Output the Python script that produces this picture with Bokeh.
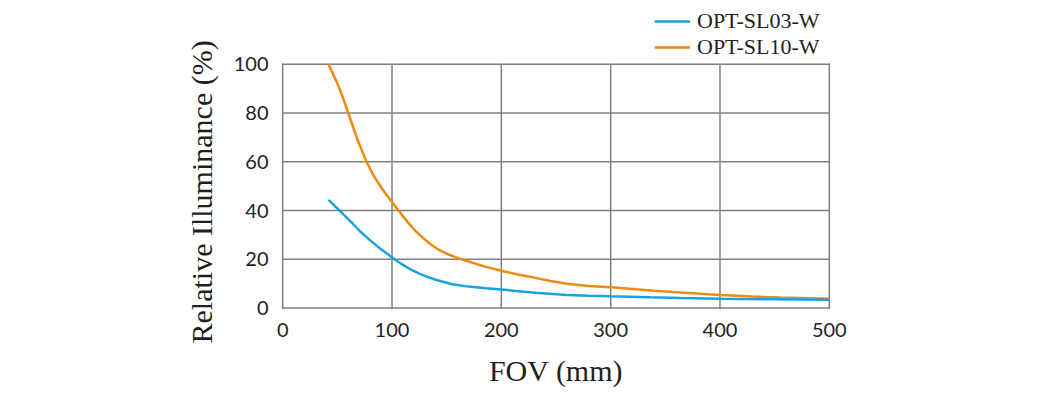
from bokeh.plotting import figure
from bokeh.models import Range1d, FixedTicker, Legend, LegendItem, Title
from bokeh.embed import file_html
from bokeh.resources import INLINE

# Data
blue_name = "OPT-SL03-W"
blue_x = [42, 49, 56, 64, 71, 79, 87, 94, 100, 105, 109, 117, 125, 133, 140, 155, 170, 186,
          200, 231, 260, 280, 300, 336, 364, 400, 450, 500]
blue_y = [44.4, 41.3, 38.2, 34.7, 31.4, 28.2, 25.2, 22.8, 20.8, 19.2, 18.0, 15.9, 14.1, 12.7,
          11.6, 9.8, 8.8, 8.1, 7.6, 6.3, 5.4, 5.05, 4.8, 4.4, 4.1, 3.8, 3.6, 3.4]

orange_name = "OPT-SL10-W"
orange_x = [42, 46, 50, 55, 59, 64, 68, 73, 77, 82, 87, 93, 100, 106, 112, 120, 128, 135,
            142, 150, 158, 165, 175, 185, 200, 215, 230, 245, 260, 280, 300, 320, 340, 364,
            382, 400, 430, 455, 500]
orange_y = [100, 96, 92.2, 86.5, 81.3, 74.8, 69.6, 64.0, 59.8, 55.3, 51.6, 47.6, 43.5, 40.0,
            36.6, 32.3, 28.9, 26.3, 24.1, 22.3, 20.9, 19.8, 18.4, 17.0, 15.3, 13.8, 12.5, 11.1,
            10.0, 9.1, 8.5, 7.8, 7.1, 6.4, 5.9, 5.4, 4.7, 4.3, 3.8]

x_ticks = [0, 100, 200, 300, 400, 500]
y_ticks = [0, 20, 40, 60, 80, 100]

x_label = "FOV (mm)"
y_label = "Relative Illuminance (%)"

grid_color = "#808080"
text_color = "#231f20"
blue_color = "#1aa3e3"
orange_color = "#ee8a12"

# The frame reaches up to the top of the canvas so the legend (inside it) is not clipped;
# the visible chart box is drawn from the tick lists.
p = figure(width=1031, height=395, output_backend="svg", toolbar_location=None,
           x_range=Range1d(-2, 502), y_range=Range1d(-1, 126.2),
           min_border_left=280, min_border_right=200, min_border_top=0, min_border_bottom=85)

p.outline_line_color = None
p.background_fill_color = "white"
p.border_fill_color = "white"
p.grid.visible = False

for ax in (p.xaxis[0], p.yaxis[0]):
    ax.major_tick_line_color = None
    ax.minor_tick_line_color = None
    ax.axis_line_color = None
    ax.major_label_text_font = "Lato"
    ax.major_label_text_font_size = "20px"
    ax.major_label_text_color = text_color

p.xaxis.ticker = FixedTicker(ticks=x_ticks)
p.yaxis.ticker = FixedTicker(ticks=y_ticks)
p.xaxis.major_label_standoff = 6
p.yaxis.major_label_standoff = 6
p.xaxis.axis_label = x_label
p.xaxis.axis_label_text_font = "Liberation Serif"
p.xaxis.axis_label_text_font_style = "normal"
p.xaxis.axis_label_text_color = text_color
p.xaxis.axis_label_text_font_size = "30px"
p.xaxis.axis_label_standoff = 14

p.add_layout(Title(text=y_label, align="left", offset=-33, standoff=26,
                   text_font="Liberation Serif", text_font_size="30px",
                   text_font_style="normal", text_color=text_color), "left")

# chart box and grid
n_x = len(x_ticks)
n_y = len(y_ticks)
p.segment(x0=x_ticks, x1=x_ticks, y0=[y_ticks[0]] * n_x, y1=[y_ticks[-1]] * n_x,
          line_color=grid_color, line_width=1.5, line_cap="square")
p.segment(x0=[x_ticks[0]] * n_y, x1=[x_ticks[-1]] * n_y, y0=y_ticks, y1=y_ticks,
          line_color=grid_color, line_width=1.5, line_cap="square")

r_orange = p.line(orange_x, orange_y, line_color=orange_color, line_width=2.5)
r_blue = p.line(blue_x, blue_y, line_color=blue_color, line_width=2.5)

legend = Legend(items=[LegendItem(label=blue_name, renderers=[r_blue]),
                       LegendItem(label=orange_name, renderers=[r_orange])],
                location=(374, 250), orientation="vertical")
legend.border_line_color = None
legend.background_fill_alpha = 0
legend.label_text_font = "Liberation Serif"
legend.label_text_font_size = "22px"
legend.label_text_color = text_color
legend.glyph_width = 36
legend.glyph_height = 20
legend.label_height = 20
legend.label_standoff = 7
legend.spacing = -3
legend.padding = 0
legend.margin = 0
p.add_layout(legend, "center")

open("out.html", "w").write(file_html(p, INLINE))
